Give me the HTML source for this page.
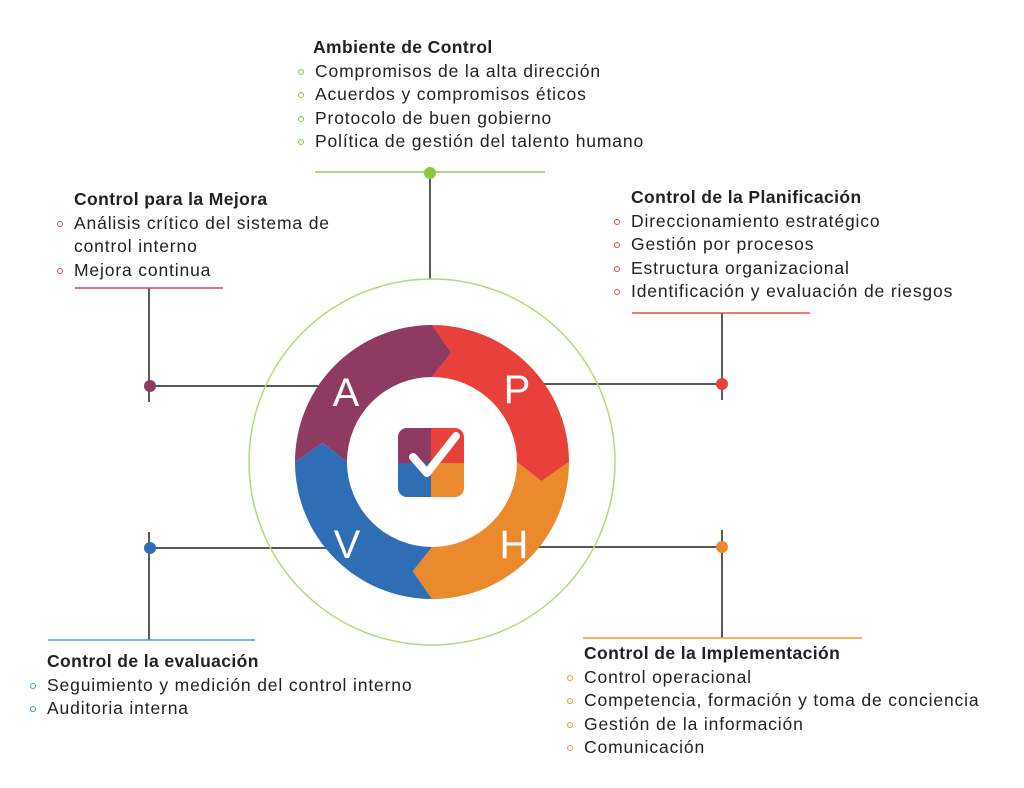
<!DOCTYPE html>
<html><head><meta charset="utf-8"><style>
body{margin:0;width:1024px;height:788px;background:#fff;position:relative;overflow:hidden;font-family:"Liberation Sans","DejaVu Sans",sans-serif;color:#222;}
.b{position:absolute;font-size:17.5px;letter-spacing:0.85px;line-height:23.5px;white-space:nowrap}
.b .t{font-weight:bold;letter-spacing:0.4px}
.b .i{position:relative;padding-left:17px}
.b .i:before{content:"";position:absolute;left:0;top:9px;width:4px;height:4px;border:1.5px solid var(--c);border-radius:50%}
.b .c{padding-left:17px}
svg{position:absolute;left:0;top:0}
</style></head><body>
<svg width="1024" height="788">
<g stroke="#222" stroke-width="1.5" fill="none">
<line x1="430" y1="173" x2="430" y2="279"/>
<line x1="149" y1="288" x2="149" y2="402"/>
<line x1="150" y1="386" x2="335" y2="386"/>
<line x1="722" y1="313" x2="722" y2="400"/>
<line x1="530" y1="384" x2="722" y2="384"/>
<line x1="149" y1="532" x2="149" y2="640"/>
<line x1="150" y1="548" x2="335" y2="548"/>
<line x1="722" y1="530" x2="722" y2="638"/>
<line x1="535" y1="547" x2="722" y2="547"/>
</g>
<line x1="315" y1="172" x2="545" y2="172" stroke="#9ccb5a" stroke-width="1.5"/>
<line x1="75" y1="288" x2="223" y2="288" stroke="#d4417a" stroke-width="1.5"/>
<line x1="632" y1="313" x2="810" y2="313" stroke="#e8503a" stroke-width="1.5"/>
<line x1="48" y1="640" x2="255" y2="640" stroke="#4a9be0" stroke-width="1.5"/>
<line x1="583" y1="638" x2="862" y2="638" stroke="#ef9a2a" stroke-width="1.5"/>
<circle cx="432" cy="462" r="183" fill="none" stroke="#b6d87a" stroke-width="1.5"/>
<path d="M295,462 A137,137 0 0 1 432,325 L451.3,352.7 L432,377 A85,85 0 0 0 347,462 L322.7,442.7 Z" fill="#8e3a63"/>
<path d="M432,325 A137,137 0 0 1 569,462 L541.3,481.3 L517,462 A85,85 0 0 0 432,377 L451.3,352.7 Z" fill="#e8403a"/>
<path d="M569,462 A137,137 0 0 1 432,599 L412.7,571.3 L432,547 A85,85 0 0 0 517,462 L541.3,481.3 Z" fill="#ea8a2c"/>
<path d="M432,599 A137,137 0 0 1 295,462 L322.7,442.7 L347,462 A85,85 0 0 0 432,547 L412.7,571.3 Z" fill="#2f6db5"/>
<g font-family="Liberation Sans, sans-serif" font-size="40" fill="#fff" text-anchor="middle">
<text x="346" y="406">A</text><text x="517" y="403">P</text>
<text x="347" y="558">V</text><text x="514" y="558">H</text>
</g>
<clipPath id="sq"><rect x="398" y="428" width="66" height="69" rx="9"/></clipPath>
<g clip-path="url(#sq)">
<rect x="398" y="428" width="33" height="35" fill="#8e3a63"/>
<rect x="431" y="428" width="33" height="35" fill="#e8403a"/>
<rect x="398" y="463" width="33" height="34" fill="#2f6db5"/>
<rect x="431" y="463" width="33" height="34" fill="#ea8a2c"/>
</g>
<path d="M413,457 L427,473 L456,436" fill="none" stroke="#fff" stroke-width="8" stroke-linecap="round" stroke-linejoin="round"/>
<circle cx="430" cy="173" r="6" fill="#8cc63f"/>
<circle cx="150" cy="386" r="6" fill="#8e3a63"/>
<circle cx="722" cy="384" r="6" fill="#e8403a"/>
<circle cx="150" cy="548" r="6" fill="#2f6db5"/>
<circle cx="722" cy="547" r="6" fill="#ea8a2c"/>
</svg>
<div class="b" style="left:298px;top:36px;--c:#8cc63f">
<div class="t" style="padding-left:15px">Ambiente de Control</div>
<div class="i">Compromisos de la alta dirección</div>
<div class="i">Acuerdos y compromisos éticos</div>
<div class="i">Protocolo de buen gobierno</div>
<div class="i">Política de gestión del talento humano</div>
</div>
<div class="b" style="left:57px;top:188px;--c:#c8447a">
<div class="t" style="padding-left:17px">Control para la Mejora</div>
<div class="i">Análisis crítico del sistema de</div>
<div class="c">control interno</div>
<div class="i">Mejora continua</div>
</div>
<div class="b" style="left:614px;top:186px;--c:#e8503a">
<div class="t" style="padding-left:17px">Control de la Planificación</div>
<div class="i">Direccionamiento estratégico</div>
<div class="i">Gestión por procesos</div>
<div class="i">Estructura organizacional</div>
<div class="i">Identificación y evaluación de riesgos</div>
</div>
<div class="b" style="left:30px;top:650px;--c:#4a9be0">
<div class="t" style="padding-left:17px">Control de la evaluación</div>
<div class="i">Seguimiento y medición del control interno</div>
<div class="i">Auditoria interna</div>
</div>
<div class="b" style="left:567px;top:642px;--c:#ef9a2a">
<div class="t" style="padding-left:17px">Control de la Implementación</div>
<div class="i">Control operacional</div>
<div class="i">Competencia, formación y toma de conciencia</div>
<div class="i">Gestión de la información</div>
<div class="i">Comunicación</div>
</div>
</body></html>
